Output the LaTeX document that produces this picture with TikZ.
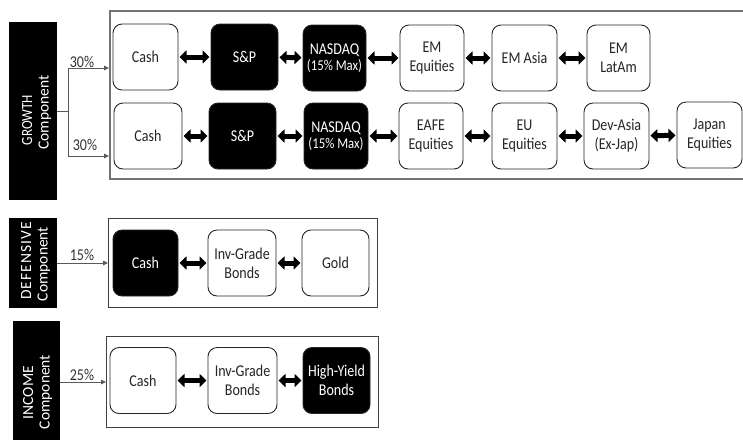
\documentclass[tikz,border=0pt]{standalone}
\usepackage{fontspec}
\setmainfont{Carlito}
\newfontfamily\narrowf[FakeStretch=0.85]{Carlito}
\newfontfamily\spacedf[LetterSpace=7]{Carlito}
\usetikzlibrary{arrows.meta,calc}
\newcommand{\subline}{\fontsize{15}{16}\selectfont}
\begin{document}
\begin{tikzpicture}[x=1pt,y=-1pt,
  wbox/.style={draw=black!85,line width=0.9pt,rounded corners=9pt,fill=white,text=black!85,align=center,
    font=\narrowf\fontsize{16.5}{19}\selectfont,inner sep=0pt,outer sep=0pt,minimum height=66pt},
  bbox/.style={wbox,fill=black,text=white},
  dbl/.style={{Triangle[length=7pt,width=13pt]}-{Triangle[length=7pt,width=13pt]},line width=5pt,
    shorten <=1.5pt,shorten >=1.5pt},
  frame/.style={draw=black!75,line width=0.9pt,inner sep=0pt,outer sep=0pt},
  bar/.style={fill=black,inner sep=0pt,outer sep=0pt},
  bartext/.style={text=white,rotate=90,anchor=base,inner sep=0pt,font=\fontsize{15.5}{16}\selectfont},
  pct/.style={text=black!80,font=\narrowf\fontsize{16.5}{16}\selectfont,inner sep=0pt},
  conn/.style={draw=black!65,line width=0.8pt,-{Triangle[length=5pt,width=4.5pt]}}
]
\useasboundingbox (0,0) rectangle (743,440);

% frames
\node[frame,draw=black!55,line width=1.5pt,minimum width=650pt,minimum height=168pt] (gbox) at (435,95) {};
\node[frame,minimum width=269pt,minimum height=89pt] (dbox) at (242.5,262.5) {};
\node[frame,minimum width=272pt,minimum height=91pt] (ibox) at (242,381.5) {};

% bars
\node[bar,minimum width=48pt,minimum height=178pt] (gbar) at (33,111) {};
\node[bar,minimum width=48pt,minimum height=90pt] (dbar) at (33,263) {};
\node[bar,minimum width=47pt,minimum height=119pt] (ibar) at (36.5,380.5) {};
\node[bartext] (gtxt1) at (32,120) {\narrowf GROWTH};
\node[bartext] (gtxt2) at (48.5,112.5) {Component};
\node[bartext] (dtxt1) at (31,261) {\spacedf DEFENSIVE};
\node[bartext] (dtxt2) at (47.5,264) {Component};
\node[bartext] (itxt1) at (33,392.5) {INCOME};
\node[bartext] (itxt2) at (49.5,392) {Component};

% growth row 1
\node[wbox,minimum width=65pt] (g1a) at (145.5,57) {Cash};
\node[bbox,minimum width=67pt] (g1b) at (244.5,57) {S\&P};
\node[bbox,minimum width=63pt] (g1c) at (334.5,58) {NASDAQ\\[-3pt]{\subline (15\% Max)}};
\node[wbox,minimum width=64pt] (g1d) at (432,58) {EM\\Equities};
\node[wbox,minimum width=65pt] (g1e) at (524.5,58) {EM Asia};
\node[wbox,minimum width=63pt] (g1f) at (618.5,58) {EM\\LatAm};

% growth row 2
\node[wbox,minimum width=68pt] (g2a) at (148,136) {Cash};
\node[bbox,minimum width=67pt] (g2b) at (242.5,136) {S\&P};
\node[bbox,minimum width=64pt] (g2c) at (336,136) {NASDAQ\\[-3pt]{\subline (15\% Max)}};
\node[wbox,minimum width=64pt] (g2d) at (431,136) {EAFE\\Equities};
\node[wbox,minimum width=65pt] (g2e) at (524.5,136) {EU\\Equities};
\node[wbox,minimum width=65pt] (g2f) at (616.5,136) {Dev-Asia\\(Ex-Jap)};
\node[wbox,minimum width=65pt] (g2g) at (709.5,135) {Japan\\Equities};

% defensive
\node[bbox,minimum width=65pt] (d1) at (145.5,263) {Cash};
\node[wbox,minimum width=68pt] (d2) at (242,263) {Inv-Grade\\Bonds};
\node[wbox,minimum width=67pt] (d3) at (335.5,263) {Gold};

% income
\node[wbox,minimum width=66pt] (i1) at (143,380.5) {Cash};
\node[wbox,minimum width=69pt] (i2) at (242.5,380.5) {Inv-Grade\\Bonds};
\node[bbox,minimum width=67pt] (i3) at (336.5,380.5) {High-Yield\\Bonds};

% double arrows
\foreach \a/\b in {g1a/g1b,g1b/g1c,g1c/g1d,g1d/g1e,g1e/g1f,
                   g2a/g2b,g2b/g2c,g2c/g2d,g2d/g2e,g2e/g2f,g2f/g2g,
                   d1/d2,d2/d3,i1/i2,i2/i3}
  \draw[dbl] (\a) -- (\b);

% allocation connectors
\coordinate (gsplit) at (68,111);
\coordinate (gin1) at ($(gbox.west)+(-1,-27)$);
\coordinate (gin2) at ($(gbox.west)+(-1,61)$);
\draw[draw=black!65,line width=0.8pt] (gbar.east) -- (gsplit);
\draw[conn] (gsplit) |- (gin1);
\draw[conn] (gsplit) |- (gin2);
\draw[conn] (dbar.east) -- (dbar.east -| dbox.west);
\draw[conn] ($(ibar.east)+(0,1.5)$) -- ($(ibar.east -| ibox.west)+(0,1.5)$);

% percentages
\node[pct] (p1) at (82,62) {30\%};
\node[pct] (p2) at (85,145) {30\%};
\node[pct] (p3) at (82,255) {15\%};
\node[pct] (p4) at (82,375) {25\%};
\end{tikzpicture}
\end{document}
